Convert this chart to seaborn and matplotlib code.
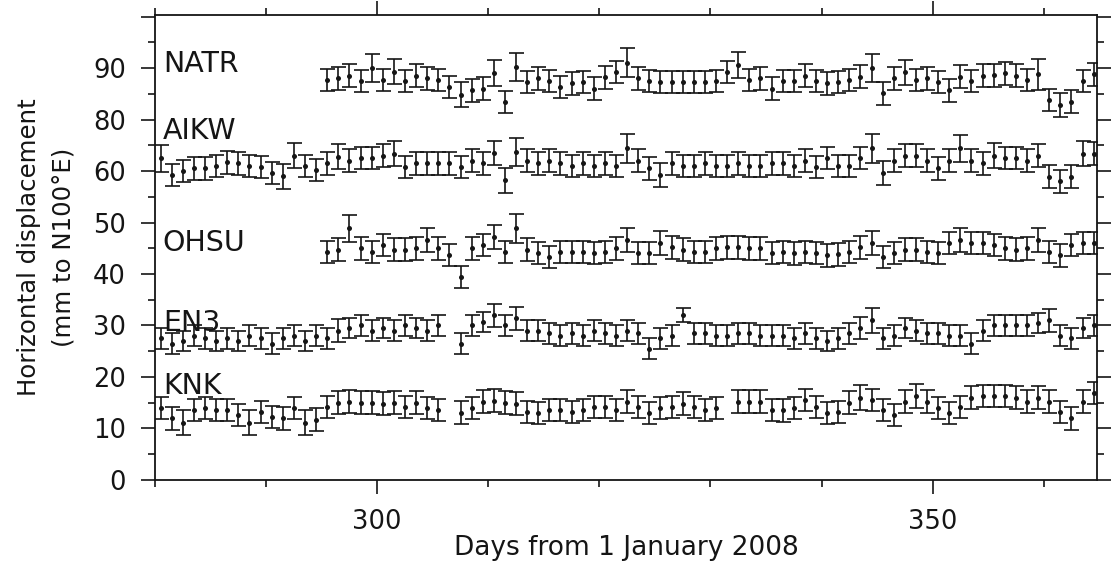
import numpy as np
import pandas as pd
import matplotlib
matplotlib.use("Agg")
import matplotlib.pyplot as plt
import seaborn as sns
from matplotlib.ticker import FixedLocator, FixedFormatter, MultipleLocator

nan = np.nan

# ---------------- data (daily solutions, mm) ----------------
stations = ["NATR", "AIKW", "OHSU", "EN3", "KNK"]

natr_start = 295
natr_disp = [77.7, 78.0, 78.5, 77.5, 80.0, 77.7, 79.3, 77.5, 78.5, 78.0,
             77.7, 76.3, 74.8, 75.7, 76.0, 79.0, 73.4, 80.2, 77.3, 78.0,
             77.5, 76.3, 77.0, 77.3, 76.0, 78.2, 79.2, 81.0, 78.0, 77.5,
             77.3, 77.3, 77.3, 77.3, 77.3, 77.5, 79.2, 80.6, 77.7, 78.0,
             76.0, 77.5, 77.5, 78.5, 77.5, 77.0, 77.3, 77.7, 78.3, 80.0,
             75.1, 78.0, 79.2, 77.7, 78.0, 77.3, 75.7, 78.3, 77.5, 78.5,
             78.6, 79.0, 78.5, 77.7, 78.8, 73.8, 72.8, 73.5, 77.5, 78.8]
natr_err = [2.2, 2.2, 2.2, 2.2, 2.8, 2.2, 2.4, 2.2, 2.2, 2.2,
            2.2, 2.2, 2.4, 2.2, 2.2, 2.5, 2.2, 2.8, 2.2, 2.2,
            2.2, 2.2, 2.2, 2.2, 2.2, 2.2, 2.2, 2.8, 2.2, 2.2,
            2.2, 2.2, 2.2, 2.2, 2.2, 2.2, 2.2, 2.6, 2.2, 2.2,
            2.2, 2.2, 2.2, 2.2, 2.2, 2.2, 2.2, 2.2, 2.2, 2.8,
            2.2, 2.2, 2.4, 2.2, 2.2, 2.2, 2.2, 2.2, 2.2, 2.2,
            2.2, 2.2, 2.2, 2.2, 3.0, 2.2, 2.4, 2.2, 2.2, 2.2]

aikw_start = 280
aikw_disp = [62.5, 59.2, 60.0, 60.5, 60.5, 61.0, 61.7, 61.5, 61.0, 60.8,
             59.6, 59.0, 63.0, 61.0, 60.2, 61.5, 62.8, 62.0, 62.5, 62.5,
             63.0, 63.4, 60.8, 61.5, 61.5, 61.5, 61.5, 60.8, 62.0, 61.5,
             63.5, 58.2, 63.7, 62.0, 61.5, 62.0, 61.5, 61.0, 61.5, 61.0,
             61.5, 61.0, 64.4, 62.0, 60.5, 59.2, 61.5, 61.0, 61.0, 61.5,
             61.0, 61.0, 61.5, 61.0, 61.0, 61.5, 61.5, 61.0, 62.0, 60.8,
             62.5, 61.0, 61.0, 62.5, 64.4, 59.6, 62.0, 63.0, 63.0, 62.0,
             60.5, 62.0, 64.4, 62.0, 61.5, 63.0, 62.5, 62.5, 62.0, 63.0,
             58.9, 58.0, 58.9, 63.4, 63.4]
aikw_err = [2.6, 2.2, 2.2, 2.2, 2.2, 2.2, 2.2, 2.2, 2.2, 2.2,
            2.2, 2.4, 2.5, 2.2, 2.2, 2.2, 2.4, 2.2, 2.2, 2.2,
            2.2, 2.4, 2.2, 2.2, 2.2, 2.2, 2.2, 2.2, 2.2, 2.2,
            2.4, 2.4, 2.8, 2.2, 2.2, 2.2, 2.2, 2.2, 2.2, 2.2,
            2.2, 2.2, 2.8, 2.2, 2.2, 2.4, 2.2, 2.2, 2.2, 2.2,
            2.2, 2.2, 2.2, 2.2, 2.2, 2.2, 2.2, 2.2, 2.2, 2.2,
            2.2, 2.2, 2.2, 2.2, 2.8, 2.4, 2.2, 2.2, 2.2, 2.2,
            2.2, 2.2, 2.6, 2.2, 2.2, 2.4, 2.2, 2.2, 2.2, 2.2,
            2.2, 2.2, 2.2, 2.4, 2.2]

ohsu_start = 295
ohsu_disp = [44.3, 44.7, 48.9, 45.0, 44.3, 45.6, 44.7, 44.7, 45.0, 46.6,
             45.0, 43.7, 39.4, 45.0, 45.6, 47.2, 44.3, 48.9, 44.7, 44.1,
             43.3, 44.3, 44.3, 44.3, 44.1, 44.3, 45.0, 46.6, 44.1, 44.1,
             46.0, 45.2, 44.7, 44.3, 44.3, 45.0, 45.2, 45.2, 45.0, 45.0,
             44.1, 44.3, 44.0, 44.3, 44.1, 43.6, 43.8, 44.3, 45.2, 46.0,
             43.3, 44.1, 44.7, 44.7, 44.3, 44.1, 46.0, 46.6, 46.0, 46.0,
             45.6, 45.0, 44.7, 45.0, 46.6, 44.3, 43.6, 45.6, 46.0, 46.0]
ohsu_err = [2.2, 2.2, 2.6, 2.2, 2.2, 2.2, 2.2, 2.2, 2.2, 2.4,
            2.2, 2.2, 2.2, 2.2, 2.2, 2.4, 2.2, 2.8, 2.2, 2.2,
            2.2, 2.2, 2.2, 2.2, 2.2, 2.2, 2.2, 2.4, 2.2, 2.2,
            2.4, 2.2, 2.2, 2.2, 2.2, 2.2, 2.2, 2.2, 2.2, 2.2,
            2.2, 2.2, 2.2, 2.2, 2.2, 2.2, 2.2, 2.2, 2.2, 2.4,
            2.2, 2.2, 2.2, 2.2, 2.2, 2.2, 2.2, 2.4, 2.2, 2.2,
            2.2, 2.2, 2.2, 2.2, 2.4, 2.2, 2.2, 2.2, 2.2, 2.2]

en3_start = 280
en3_disp = [27.5, 26.5, 27.0, 28.0, 27.5, 27.0, 27.5, 27.0, 28.0, 27.5,
            26.5, 27.5, 28.0, 27.0, 28.0, 27.5, 29.0, 29.5, 30.0, 29.0,
            29.5, 29.0, 30.0, 29.5, 29.0, 30.0, nan, 26.5, 30.0, 30.7,
            32.0, 30.0, 31.4, 29.0, 29.0, 28.5, 28.0, 28.5, 28.0, 29.0,
            28.5, 28.0, 29.0, 28.5, 25.5, 27.5, 28.0, 32.0, 28.5, 28.5,
            28.0, 28.0, 28.5, 28.5, 28.0, 28.0, 28.0, 27.5, 28.5, 27.5,
            27.0, 27.5, 28.5, 29.5, 31.0, 27.5, 28.0, 29.5, 29.0, 28.5,
            28.5, 28.0, 28.0, 26.5, 29.0, 30.0, 30.0, 30.0, 30.0, 30.5,
            31.0, 28.0, 27.5, 29.5, 30.0]
en3_err = [2.0, 2.0, 2.0, 2.0, 2.0, 2.0, 2.0, 2.0, 2.0, 2.0,
           2.0, 2.0, 2.0, 2.0, 2.0, 2.0, 2.2, 2.0, 2.0, 2.0,
           2.0, 2.0, 2.0, 2.0, 2.0, 2.0, nan, 2.0, 2.0, 2.0,
           2.2, 2.0, 2.2, 2.0, 2.0, 2.0, 2.0, 2.0, 2.0, 2.0,
           2.0, 2.0, 2.0, 2.0, 2.0, 2.0, 2.0, 1.4, 2.0, 2.0,
           2.0, 2.0, 2.0, 2.0, 2.0, 2.0, 2.0, 2.0, 2.0, 2.0,
           2.0, 2.0, 2.0, 2.2, 2.4, 2.0, 2.0, 2.0, 2.0, 2.0,
           2.0, 2.0, 2.0, 2.0, 2.0, 2.0, 2.0, 2.0, 2.0, 2.0,
           2.2, 2.0, 2.0, 2.0, 2.0]

knk_start = 280
knk_disp = [14.0, 12.0, 11.1, 13.6, 14.0, 13.6, 13.6, 12.6, 11.1, 13.2,
            12.2, 12.0, 14.0, 11.1, 11.7, 14.2, 15.0, 15.2, 15.0, 15.0,
            14.8, 15.0, 14.2, 15.0, 14.0, 13.6, nan, 13.1, 14.0, 15.2,
            15.4, 15.0, 14.8, 13.2, 13.0, 13.6, 13.6, 13.2, 13.6, 14.2,
            14.2, 13.6, 15.2, 14.2, 13.0, 14.0, 14.2, 14.8, 14.2, 13.6,
            14.0, nan, 15.2, 15.2, 15.2, 13.6, 13.5, 14.0, 15.5, 14.2,
            13.0, 13.2, 15.0, 16.0, 15.5, 13.6, 12.6, 15.2, 16.3, 15.2,
            14.0, 13.0, 14.2, 16.0, 16.3, 16.3, 16.3, 16.0, 15.2, 16.0,
            15.2, 13.2, 12.0, 15.2, 16.9]
knk_err = [2.2, 2.2, 2.4, 2.2, 2.2, 2.2, 2.2, 2.2, 2.4, 2.2,
           2.2, 2.2, 2.2, 2.4, 2.2, 2.2, 2.2, 2.2, 2.2, 2.2,
           2.2, 2.2, 2.2, 2.2, 2.2, 2.2, nan, 2.2, 2.2, 2.2,
           2.2, 2.2, 2.2, 2.2, 2.2, 2.2, 2.2, 2.2, 2.2, 2.2,
           2.2, 2.2, 2.2, 2.2, 2.2, 2.2, 2.2, 2.2, 2.2, 2.2,
           2.2, nan, 2.2, 2.2, 2.2, 2.2, 2.2, 2.2, 2.2, 2.2,
           2.2, 2.2, 2.2, 2.4, 2.2, 2.2, 2.2, 2.2, 2.4, 2.2,
           2.2, 2.2, 2.2, 2.2, 2.2, 2.2, 2.2, 2.2, 2.2, 2.2,
           2.2, 2.2, 2.2, 2.2, 2.2]

x_ticks = [300, 350]
x_ticklabels = ["300", "350"]
y_ticks = [0, 10, 20, 30, 40, 50, 60, 70, 80, 90]
y_ticklabels = ["0", "10", "20", "30", "40", "50", "60", "80", "90", ""]

series = {
    "NATR": (natr_start, natr_disp, natr_err),
    "AIKW": (aikw_start, aikw_disp, aikw_err),
    "OHSU": (ohsu_start, ohsu_disp, ohsu_err),
    "EN3": (en3_start, en3_disp, en3_err),
    "KNK": (knk_start, knk_disp, knk_err),
}

frames = []
for name in stations:
    start, disp, err = series[name]
    n = len(disp)
    frames.append(pd.DataFrame({
        "station": name,
        "day": np.arange(start, start + n) + 0.5,   # daily solutions at mid-day
        "disp": disp,
        "err": err,
    }))
df = pd.concat(frames, ignore_index=True).dropna()

# ---------------- plot ----------------
sns.set_theme(style="ticks")
plt.rcParams["font.family"] = ["DejaVu Sans"]
ink = "#151515"

fig, ax = plt.subplots(figsize=(11.16, 5.64), dpi=100)
fig.subplots_adjust(left=0.1389, right=0.983, bottom=0.149, top=0.9734)

for name in stations:
    sub = df[df["station"] == name]
    ax.errorbar(sub["day"], sub["disp"], yerr=sub["err"], fmt="none",
                ecolor=ink, elinewidth=1.2, capsize=5.4, capthick=1.2, zorder=2)
sns.scatterplot(data=df, x="day", y="disp", color=ink, s=13, linewidth=0,
                legend=False, ax=ax, zorder=3)

label_y = {"NATR": 79.2, "AIKW": 66.2, "OHSU": 44.5, "EN3": 28.9, "KNK": 16.7}
for name in stations:
    ax.text(280.7, label_y[name], name, fontsize=20.5, color=ink,
            ha="left", va="baseline")

ax.set_xlim(280, 364.8)
ax.set_ylim(0, 90.3)
ax.xaxis.set_major_locator(FixedLocator(x_ticks))
ax.xaxis.set_major_formatter(FixedFormatter(x_ticklabels))
ax.xaxis.set_minor_locator(MultipleLocator(10))
ax.yaxis.set_major_locator(FixedLocator(y_ticks))
ax.yaxis.set_major_formatter(FixedFormatter(y_ticklabels))
ax.yaxis.set_minor_locator(MultipleLocator(5))

ax.tick_params(which="both", direction="out", top=True, right=True,
               color=ink, width=1.2)
ax.tick_params(which="major", length=10, labelsize=18.5, labelcolor=ink)
ax.tick_params(axis="x", which="major", pad=11)
ax.tick_params(axis="y", which="major", pad=11)
ax.tick_params(which="minor", length=5)
for sp in ax.spines.values():
    sp.set_visible(True)
    sp.set_color(ink)
    sp.set_linewidth(1.3)

ax.set_xlabel("Days from 1 January 2008", fontsize=19, color=ink, labelpad=0)
ax.set_ylabel("Horizontal displacement\n(mm to N100°E)", fontsize=17.6,
              color=ink, linespacing=1.55)
ax.yaxis.set_label_coords(-0.084, 0.5)

fig.savefig("out.png", dpi=100, facecolor="white")
